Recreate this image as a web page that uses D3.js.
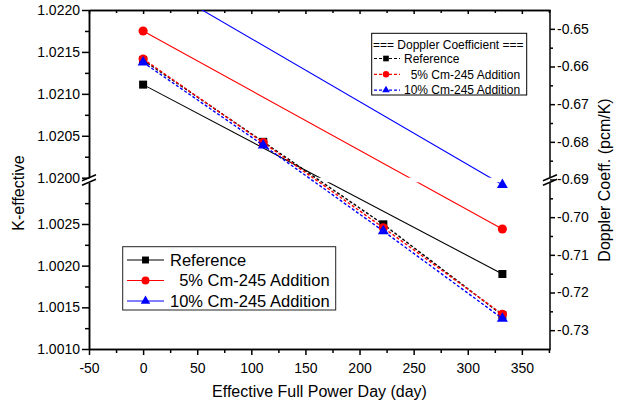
<!DOCTYPE html>
<html>
<head>
<meta charset="utf-8">
<script src="https://cdn.jsdelivr.net/npm/d3@7"></script>
<style>
  body { margin: 0; background: #fff; }
  text { font-family: Arial, "Liberation Sans", sans-serif; fill: #000; }
</style>
</head>
<body>
<script>
const width = 624, height = 405;
const plotL = 89, plotR = 550, plotT = 10, plotB = 349;

// burnup steps (EFPD)
const kDays = [0, 332];
const dDays = [0, 111, 222, 332];

// K-effective (left axis), BOC / EOC
const kRef = [1.02111, 1.00190];
const k5 = [1.02175, 1.00244];
const k10 = [1.02241, 1.00297];

// Doppler coefficient (right axis)
const dRef = [-0.6583, -0.6800, -0.7019, -0.7260];
const d5 = [-0.6580, -0.6802, -0.7028, -0.7258];
const d10 = [-0.6589, -0.6809, -0.7037, -0.7269];

const kNames = ["Reference", "  5% Cm-245 Addition", "10% Cm-245 Addition"];
const dNames = ["Reference", "  5% Cm-245 Addition", "10% Cm-245 Addition"];
const dTitle = "=== Doppler Coefficient ===";

// ticks
const xMajor = [-50, 0, 50, 100, 150, 200, 250, 300, 350];
const xMinor = [-25, 25, 75, 125, 175, 225, 275, 325, 375];
const kTopMajor = [1.0200, 1.0205, 1.0210, 1.0215, 1.0220];
const kTopMinor = [1.02025, 1.02075, 1.02125, 1.02175];
const kBotMajor = [1.0010, 1.0015, 1.0020, 1.0025];
const kBotMinor = [1.00125, 1.00175, 1.00225, 1.00275];
const dMajor = [-0.65, -0.66, -0.67, -0.68, -0.69, -0.70, -0.71, -0.72, -0.73];
const dMinor = [-0.655, -0.665, -0.675, -0.685, -0.695, -0.705, -0.715, -0.725];

const colors = ["#000000", "#ff0000", "#0000ff"];
const symbols = [d3.symbolSquare, d3.symbolCircle, d3.symbolTriangle];
const symSize = [64, 66, 52];

// plain hyphen for negative numbers
const loc = d3.formatLocale({decimal: ".", thousands: ",", grouping: [3], currency: ["", ""], minus: "-"});

let svg = d3.select("body").append("svg")
  .attr("width", width)
  .attr("height", height);

let x = d3.scaleLinear().domain([-50, 376]).range([plotL, plotR]);
// broken left axis: two segments
let yTop = d3.scaleLinear().domain([1.0200, 1.0220]).range([177.7, plotT]);
let yBot = d3.scaleLinear().domain([1.0010, 1.0030]).range([plotB, 182.3]);
function yK(v) { return v >= 1.0115 ? yTop(v) : yBot(v); }
let yD = d3.scaleLinear().domain([-0.735, -0.645]).range([plotB, plotT]);

const breakA = yTop(1.0200), breakB = yBot(1.0030);

let defs = svg.append("defs");
let kclip = defs.append("clipPath").attr("id", "kclip");
kclip.append("rect").attr("x", plotL).attr("y", plotT).attr("width", plotR - plotL).attr("height", breakA - plotT);
kclip.append("rect").attr("x", plotL).attr("y", breakB).attr("width", plotR - plotL).attr("height", plotB - breakB);
defs.append("clipPath").attr("id", "pclip")
  .append("rect").attr("x", plotL).attr("y", plotT).attr("width", plotR - plotL).attr("height", plotB - plotT);

function styleAxis(g, fs) {
  g.selectAll("path, line").attr("stroke", "#000").attr("stroke-width", 1.5);
  g.selectAll("text").style("font-size", fs + "px").attr("fill", "#000");
}

// left axis (two segments)
[[yTop, kTopMajor, kTopMinor], [yBot, kBotMajor, kBotMinor]].forEach(function(s) {
  svg.append("g").attr("transform", `translate(${plotL},0)`)
    .call(d3.axisLeft(s[0]).tickValues(s[1]).tickFormat(loc.format(".4f"))
      .tickSize(7).tickSizeOuter(0).tickPadding(2))
    .call(styleAxis, 14);
  svg.append("g").attr("transform", `translate(${plotL},0)`)
    .call(d3.axisLeft(s[0]).tickValues(s[2]).tickFormat("").tickSize(4).tickSizeOuter(0))
    .call(styleAxis, 14);
});

// right axis
let rMaj = svg.append("g").attr("transform", `translate(${plotR},0)`)
  .call(d3.axisRight(yD).tickValues(dMajor).tickFormat(loc.format(".2f")).tickSize(5).tickPadding(2))
  .call(styleAxis, 14);
rMaj.select(".domain").remove();
let rMin = svg.append("g").attr("transform", `translate(${plotR},0)`)
  .call(d3.axisRight(yD).tickValues(dMinor).tickFormat("").tickSize(3))
  .call(styleAxis, 14);
rMin.select(".domain").remove();
[[plotT, breakA], [breakB, plotB]].forEach(function(seg) {
  svg.append("line").attr("x1", plotR).attr("x2", plotR).attr("y1", seg[0]).attr("y2", seg[1])
    .attr("stroke", "#000").attr("stroke-width", 1.5);
});

// bottom axis
svg.append("g").attr("transform", `translate(0,${plotB})`)
  .call(d3.axisBottom(x).tickValues(xMajor).tickFormat(loc.format("d"))
    .tickSize(6).tickSizeOuter(0).tickPadding(8))
  .call(styleAxis, 14);
svg.append("g").attr("transform", `translate(0,${plotB})`)
  .call(d3.axisBottom(x).tickValues(xMinor).tickFormat("").tickSize(4).tickSizeOuter(0))
  .call(styleAxis, 14);

// top axis (ticks inward, no labels)
svg.append("g").attr("transform", `translate(0,${plotT})`)
  .call(d3.axisTop(x).tickValues(xMajor).tickFormat("").tickSize(-4).tickSizeOuter(0))
  .call(styleAxis, 14);
svg.append("g").attr("transform", `translate(0,${plotT})`)
  .call(d3.axisTop(x).tickValues(xMinor).tickFormat("").tickSize(-3).tickSizeOuter(0))
  .call(styleAxis, 14);

// break marks
[plotL, plotR].forEach(function(ax) {
  [breakA, breakB].forEach(function(by) {
    svg.append("line")
      .attr("x1", ax - 7).attr("y1", by + 3)
      .attr("x2", ax + 7).attr("y2", by - 3)
      .attr("stroke", "#000").attr("stroke-width", 1.5);
  });
});

// axis titles
svg.append("text").attr("x", (plotL + plotR) / 2).attr("y", 397)
  .attr("text-anchor", "middle").style("font-size", "16px")
  .text("Effective Full Power Day (day)");
svg.append("text").attr("transform", "translate(24,193) rotate(-90)")
  .attr("text-anchor", "middle").style("font-size", "16px")
  .text("K-effective");
svg.append("text").attr("transform", "translate(610,180) rotate(-90)")
  .attr("text-anchor", "middle").style("font-size", "16px")
  .text("Doppler Coeff. (pcm/K)");

// K-effective series (solid)
let kSeries = [kRef, k5, k10];
let kLine = d3.line().x(d => x(d[0])).y(d => yK(d[1]));
kSeries.forEach(function(vals, i) {
  let pts = kDays.map((d, j) => [d, vals[j]]);
  svg.append("path").datum(pts)
    .attr("clip-path", "url(#kclip)")
    .attr("d", kLine)
    .attr("fill", "none")
    .attr("stroke", colors[i])
    .attr("stroke-width", 1.1);
  svg.append("g").attr("clip-path", "url(#pclip)")
    .selectAll("path").data(pts).enter().append("path")
    .attr("transform", d => `translate(${x(d[0])},${yK(d[1])})`)
    .attr("d", d3.symbol().type(symbols[i]).size(symSize[i]))
    .attr("fill", colors[i]);
});

// Doppler series (dashed)
let dSeries = [dRef, d5, d10];
let dLine = d3.line().x(d => x(d[0])).y(d => yD(d[1]));
dSeries.forEach(function(vals, i) {
  let pts = dDays.map((d, j) => [d, vals[j]]);
  svg.append("path").datum(pts)
    .attr("clip-path", "url(#pclip)")
    .attr("d", dLine)
    .attr("fill", "none")
    .attr("stroke", colors[i])
    .attr("stroke-width", 1.4)
    .attr("stroke-dasharray", "3,2");
  svg.append("g").attr("clip-path", "url(#pclip)")
    .selectAll("path").data(pts).enter().append("path")
    .attr("transform", d => `translate(${x(d[0])},${yD(d[1])})`)
    .attr("d", d3.symbol().type(symbols[i]).size(symSize[i]))
    .attr("fill", colors[i]);
});

// legend: K-effective
let lg1 = svg.append("g");
lg1.append("rect").attr("x", 122.7).attr("y", 246.7).attr("width", 213).attr("height", 63.3)
  .attr("fill", "#fff").attr("stroke", "#222").attr("stroke-width", 1);
kNames.forEach(function(name, i) {
  let ry = 260 + i * 20.5;
  lg1.append("line").attr("x1", 127).attr("x2", 164).attr("y1", ry).attr("y2", ry)
    .attr("stroke", colors[i]).attr("stroke-width", 1.1);
  lg1.append("path").attr("transform", `translate(145.5,${ry})`)
    .attr("d", d3.symbol().type(symbols[i]).size(symSize[i] * 0.75))
    .attr("fill", colors[i]);
  lg1.append("text").attr("x", 170).attr("y", ry).attr("dy", "0.36em")
    .style("font-size", "16.5px").style("white-space", "pre")
    .text(name);
});

// legend: Doppler coefficient
let lg2 = svg.append("g");
lg2.append("rect").attr("x", 371.7).attr("y", 33.3).attr("width", 155).attr("height", 61.7)
  .attr("fill", "#fff").attr("stroke", "#000").attr("stroke-width", 1);
lg2.append("text").attr("x", 373).attr("y", 45).attr("dy", "0.36em")
  .style("font-size", "12px").text(dTitle);
dNames.forEach(function(name, i) {
  let ry = 58.5 + i * 15.8;
  lg2.append("line").attr("x1", 374).attr("x2", 400).attr("y1", ry).attr("y2", ry)
    .attr("stroke", colors[i]).attr("stroke-width", 1.2).attr("stroke-dasharray", "3,2");
  lg2.append("path").attr("transform", `translate(386,${ry})`)
    .attr("d", d3.symbol().type(symbols[i]).size(symSize[i] * 0.5))
    .attr("fill", colors[i]);
  lg2.append("text").attr("x", 404).attr("y", ry).attr("dy", "0.36em")
    .style("font-size", "12px").style("white-space", "pre")
    .text(name);
});
</script>
</body>
</html>
